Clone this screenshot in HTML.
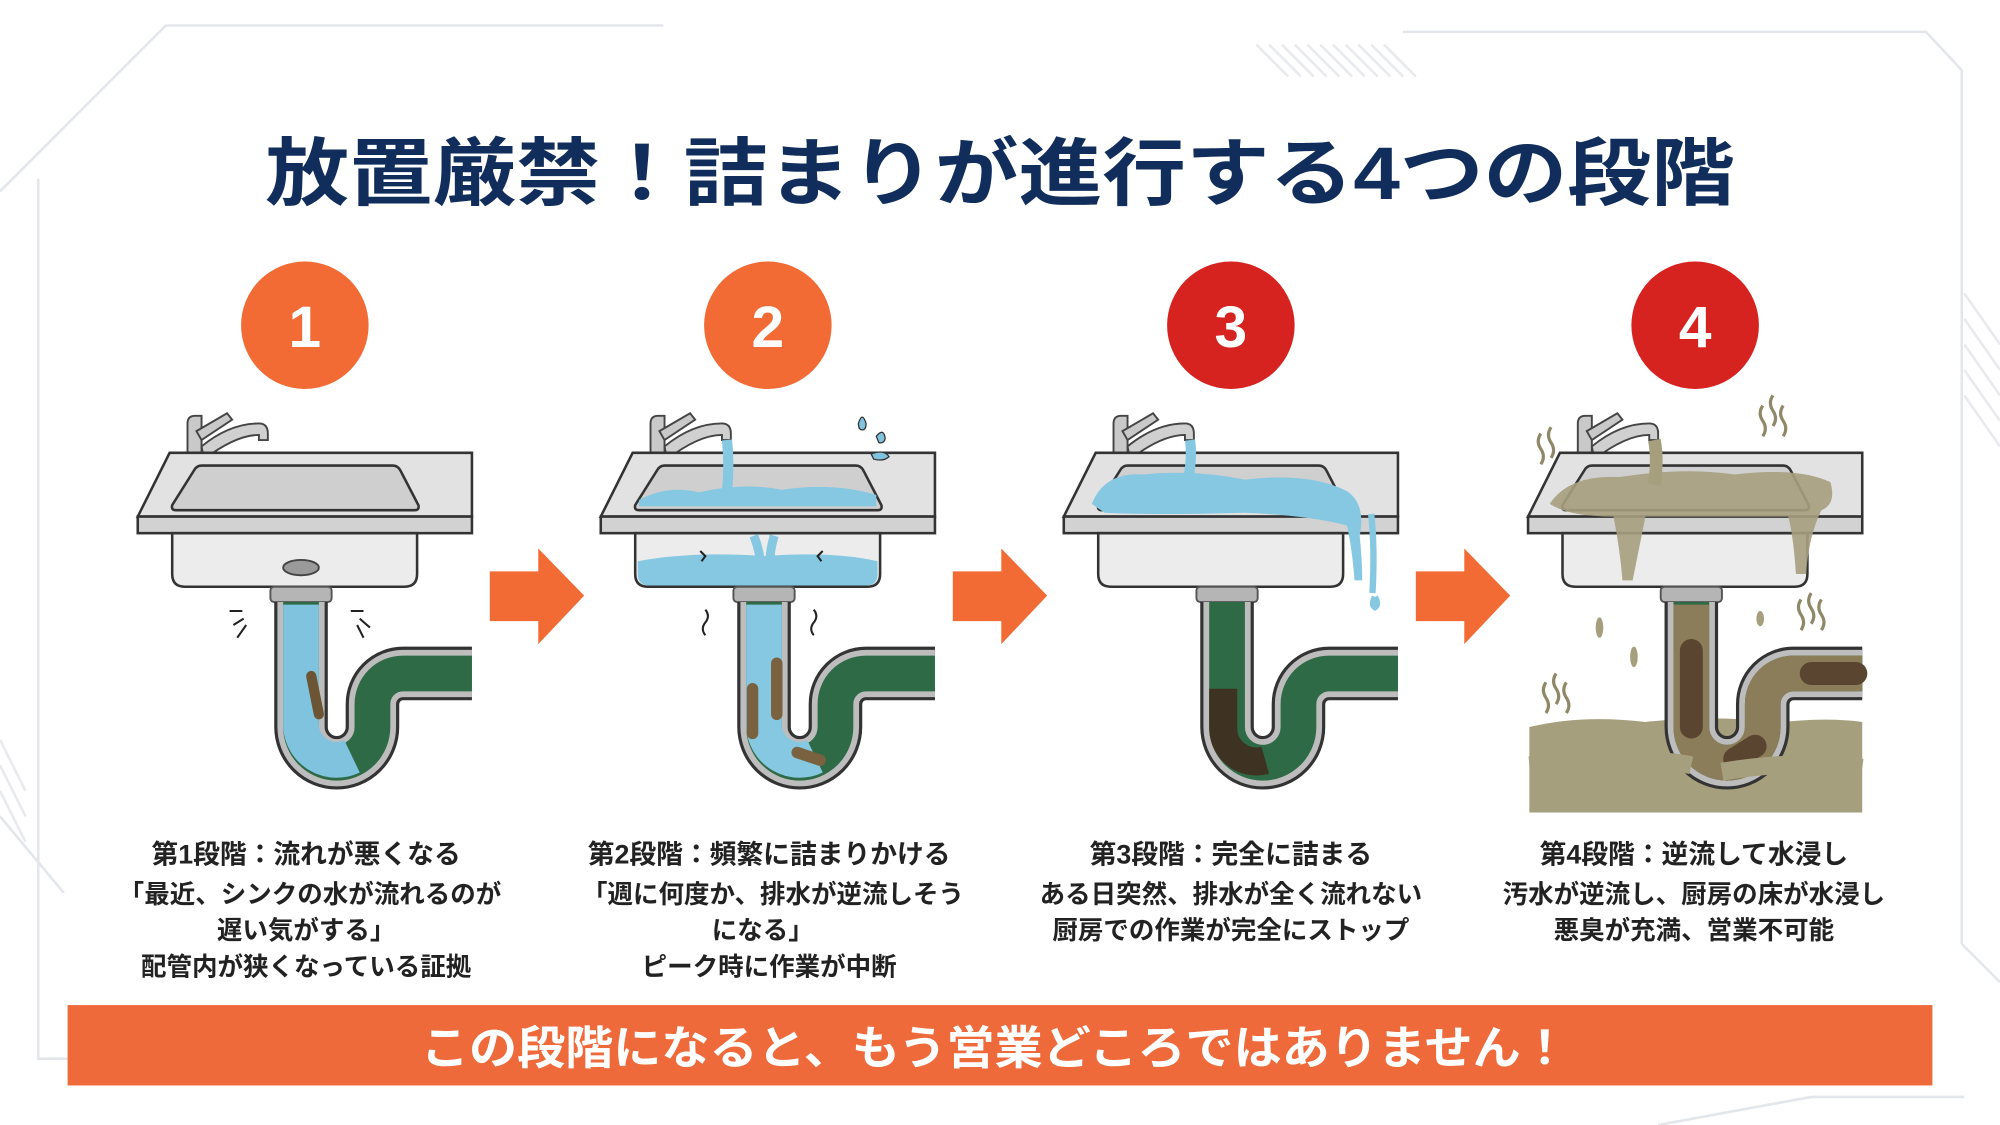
<!DOCTYPE html>
<html><head><meta charset="utf-8">
<style>
html,body{margin:0;padding:0;background:#fff;}
svg{display:block;}
text{font-family:"Liberation Sans","Noto Sans CJK JP",sans-serif;}
</style></head>
<body>
<svg width="2000" height="1125" viewBox="0 0 1568 882" xmlns="http://www.w3.org/2000/svg">
<defs>
  <g id="sink">
    <path d="M147 362 V332 Q147 326 153 326 H158 V362 Z" fill="#c9c9c9" stroke="#444" stroke-width="1.5"/>
    <path d="M154 338 L178 324 L182 329 L158 345 Z" fill="#c9c9c9" stroke="#444" stroke-width="1.5"/>
    <path d="M158 350 Q180 332 203 332 Q210 332 210 340 L210 345 L203 345 L203 341 Q185 341 160 360 Z" fill="#d0d0d0" stroke="#444" stroke-width="1.5"/>
    <path d="M133 355 H370 V405 H108 Z" fill="#e2e2e2" stroke="#333" stroke-width="2"/>
    <rect x="108" y="405" width="262" height="13" fill="#d2d2d2" stroke="#333" stroke-width="2"/>
    <path d="M158 365 H308 Q312 365 314 369 L328 396 Q329 400 325 400 H138 Q134 400 135 396 L152 369 Q154 365 158 365 Z" fill="#cfcfcf" stroke="#333" stroke-width="2"/>
    <path d="M135 418 V450 Q135 460 145 460 H317 Q327 460 327 450 V418 Z" fill="#ececec" stroke="#333" stroke-width="2"/>
    <rect x="212" y="460" width="48" height="12" rx="3" fill="#b5b5b5" stroke="#555" stroke-width="1.5"/>
  </g>
  <path id="pipePath" d="M236 472 V570 A28 28 0 0 0 292 570 V552 A24 24 0 0 1 316 528 H370" fill="none"/>
  <g id="pipe">
    <use href="#pipePath" stroke="#333" stroke-width="42"/>
    <use href="#pipePath" stroke="#bdbdbd" stroke-width="37"/>
    <use href="#pipePath" stroke="#2e6a45" stroke-width="28"/>
  </g>
</defs>

<g stroke="#e3e6ea" stroke-width="2" fill="none">
  <path d="M0 150 L130 20 H520"/>
  <path d="M30 140 V830 H420"/>
  <path d="M1100 25 H1510 L1538 55 V740"/>
  <path d="M1538 740 L1568 770"/>
  <path d="M0 640 L50 700"/>
  <path d="M1300 882 L1420 860 H1540"/>
</g>
<g stroke="#e8eaed" stroke-width="2">
  <path d="M985 35 L1010 60 M995 35 L1020 60 M1005 35 L1030 60 M1015 35 L1040 60 M1025 35 L1050 60 M1035 35 L1060 60 M1045 35 L1070 60 M1055 35 L1080 60 M1065 35 L1090 60 M1075 35 L1100 60 M1085 35 L1110 60"/>
  <path d="M1540 230 L1568 270 M1540 250 L1568 290 M1540 270 L1568 310 M1540 290 L1568 330 M1540 310 L1568 350"/>
  <path d="M0 600 L20 640 M0 620 L20 660 M0 580 L20 620"/>
</g>

<text x="784" y="156" text-anchor="middle" font-size="58" font-weight="bold" fill="#102d5c" textLength="1152" lengthAdjust="spacingAndGlyphs">放置厳禁！詰まりが進行する4つの段階</text>

<circle cx="239" cy="255" r="50" fill="#f26b35"/>
<circle cx="602" cy="255" r="50" fill="#f26b35"/>
<circle cx="965" cy="255" r="50" fill="#d62320"/>
<circle cx="1329" cy="255" r="50" fill="#d62320"/>
<g fill="#fff" font-size="46" font-weight="bold" text-anchor="middle">
<text x="239" y="272">1</text><text x="602" y="272">2</text><text x="965" y="272">3</text><text x="1329" y="272">4</text>
</g>

<g fill="#f26b35">
  <path d="M384 448 H422 V430 L458 467 L422 505 V487 H384 Z"/>
  <path d="M747 448 H785 V430 L821 467 L785 505 V487 H747 Z"/>
  <path d="M1110 448 H1148 V430 L1184 467 L1148 505 V487 H1110 Z"/>
</g>

<g>
  <use href="#sink"/>
  <ellipse cx="236" cy="445" rx="14" ry="6" fill="#9a9a9a" stroke="#444" stroke-width="1.5"/>
  <use href="#pipe"/>
  <path d="M236 474 V570 A28 28 0 0 0 276 593" fill="none" stroke="#7fc3df" stroke-width="28"/>
  <path d="M244 530 L250 560" stroke="#6b5535" stroke-width="8" stroke-linecap="round"/>
  <g stroke="#222" stroke-width="1.6">
    <path d="M180 479 H190 M183 490 L191 485 M186 500 L193 490 M275 479 H285 M282 485 L290 492 M280 490 L285 500"/>
  </g>
</g>

<g transform="translate(363,0)">
  <use href="#sink"/>
  <path d="M138 392 Q160 380 185 386 Q220 378 250 384 Q290 378 324 388 V397 H138 Z" fill="#86c8e2"/>
  <path d="M207 345 Q209 365 207 385" stroke="#86c8e2" stroke-width="8" fill="none"/>
  <path d="M137 440 Q180 432 236 436 Q290 432 325 440 V450 Q325 459 316 459 H146 Q137 459 137 450 Z" fill="#86c8e2"/>
  <path d="M228 420 Q236 440 232 458 M244 420 Q238 440 242 458" stroke="#86c8e2" stroke-width="7" fill="none"/>
  <use href="#pipe"/>
  <path d="M236 474 V570 A28 28 0 0 0 276 593" fill="none" stroke="#86c8e2" stroke-width="28"/>
  <path d="M227 540 V575 M246 520 V560 M262 590 L280 596" stroke="#7a6240" stroke-width="9" stroke-linecap="round"/>
  <g fill="#7fc3df" stroke="#333" stroke-width="1">
    <path d="M310 332 Q313 322 316 332 Q316 337 313 337 Q310 337 310 332Z"/>
    <path d="M324 342 Q330 335 331 344 Q330 348 326 347 Z"/>
    <path d="M320 356 Q330 352 334 358 Q330 362 322 360 Z"/>
  </g>
  <g stroke="#222" stroke-width="1.6" fill="none">
    <path d="M190 478 q4 5 0 10 q-4 5 0 10 M275 478 q4 5 0 10 q-4 5 0 10 M186 432 l4 4 l-3 4 M282 432 l-4 4 l3 4"/>
  </g>
</g>

<g transform="translate(726,0)">
  <use href="#sink"/>
  <path d="M130 395 Q140 370 170 372 Q210 368 250 376 Q300 370 330 385 Q345 395 340 420 Q342 440 342 455 L336 455 Q334 430 330 412 Q300 404 250 402 Q180 404 140 402 Z" fill="#86c8e2"/>
  <path d="M207 345 Q209 360 205 378" stroke="#86c8e2" stroke-width="8" fill="none"/>
  <path d="M349 403 Q352 430 350 465 M352 468 q3 6 0 8 q-3 -2 0 -8" stroke="#86c8e2" stroke-width="5" fill="none"/>
  <use href="#pipe"/>
  <path d="M233 540 V572 A26 26 0 0 0 266 596" fill="none" stroke="#3e3322" stroke-width="22"/>
</g>

<g transform="translate(1090,0)">
  <path d="M109 570 Q150 560 200 566 Q260 560 300 567 Q340 562 370 566 V637 H109 Z" fill="#a69f7e"/>
  <use href="#sink"/>
  <path d="M125 395 Q140 372 180 374 Q230 366 270 372 Q320 366 345 378 Q350 395 338 400 Q328 420 326 450 L318 450 Q316 420 312 405 L200 405 Q195 430 190 455 L182 455 Q180 430 175 405 Q140 405 125 395 Z" fill="#a69f7e" opacity="0.9"/>
  <path d="M207 345 Q210 360 207 380" stroke="#a69f7e" stroke-width="10" fill="none"/>
  <use href="#pipe"/>
  <path d="M236 474 V570 A28 28 0 0 0 292 570 V552 A24 24 0 0 1 316 528 H370" fill="none" stroke="#8c7d5a" stroke-width="28"/>
  <path d="M236 510 V570 M270 595 L286 585 M330 528 H365" stroke="#5a4630" stroke-width="18" stroke-linecap="round"/>
  <path d="M109 600 Q200 592 236 600 M260 605 Q320 595 370 602" stroke="#a69f7e" stroke-width="14" fill="none"/>
  <g fill="#a69f7e">
    <ellipse cx="164" cy="492" rx="3" ry="8"/><ellipse cx="191" cy="515" rx="3" ry="8"/><ellipse cx="290" cy="485" rx="3" ry="6"/>
  </g>
  <g stroke="#8f8868" stroke-width="2.5" fill="none">
    <path d="M118 340 q-4 6 0 12 q4 6 0 12 M126 335 q-4 6 0 12 q4 6 0 12"/>
    <path d="M300 310 q-4 6 0 12 q4 6 0 12 M308 318 q-4 6 0 12 q4 6 0 12 M292 318 q-4 6 0 12 q4 6 0 12"/>
    <path d="M322 470 q-4 6 0 12 q4 6 0 12 M330 465 q-4 6 0 12 q4 6 0 12 M338 470 q-4 6 0 12 q4 6 0 12"/>
    <path d="M122 535 q-4 6 0 12 q4 6 0 12 M130 528 q-4 6 0 12 q4 6 0 12 M138 535 q-4 6 0 12 q4 6 0 12"/>
  </g>
</g>

<g font-size="20" fill="#222" text-anchor="middle" font-weight="bold">
  <text x="240" y="677" font-size="21">第1段階：流れが悪くなる</text>
  <text x="243" y="708">「最近、シンクの水が流れるのが</text>
  <text x="240" y="736">遅い気がする」</text>
  <text x="240" y="765">配管内が狭くなっている証拠</text>

  <text x="603" y="677" font-size="21">第2段階：頻繁に詰まりかける</text>
  <text x="606" y="708">「週に何度か、排水が逆流しそう</text>
  <text x="598" y="736">になる」</text>
  <text x="603" y="765">ピーク時に作業が中断</text>

  <text x="965" y="677" font-size="21">第3段階：完全に詰まる</text>
  <text x="965" y="708">ある日突然、排水が全く流れない</text>
  <text x="965" y="736">厨房での作業が完全にストップ</text>

  <text x="1328" y="677" font-size="21">第4段階：逆流して水浸し</text>
  <text x="1328" y="708">汚水が逆流し、厨房の床が水浸し</text>
  <text x="1328" y="736">悪臭が充満、営業不可能</text>
</g>

<rect x="53" y="788" width="1462" height="63" fill="#ef6a3a"/>
<text x="780" y="834" text-anchor="middle" font-size="36" font-weight="bold" fill="#fff" textLength="900" lengthAdjust="spacingAndGlyphs">この段階になると、もう営業どころではありません！</text>
</svg>
</body></html>
